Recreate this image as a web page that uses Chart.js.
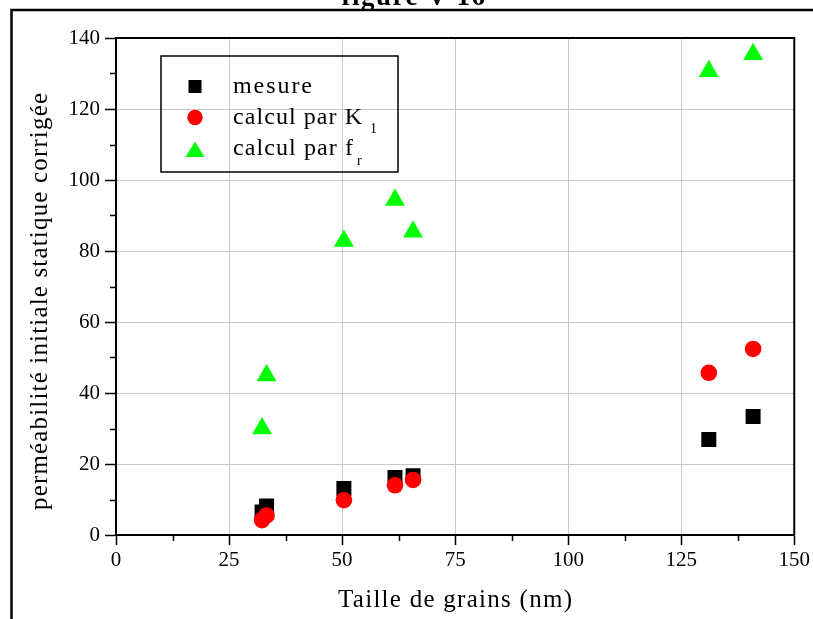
<!DOCTYPE html>
<html>
<head>
<meta charset="utf-8">
<script src="https://cdn.jsdelivr.net/npm/chart.js@4/dist/chart.umd.min.js"></script>
<style>
  html, body { margin: 0; padding: 0; background: #fff; }
  canvas { display: block; }
</style>
</head>
<body>
<canvas id="canvas" width="813" height="619"></canvas>
<script>
// grain size (nm), shared by the three series
const taille = [32.3, 33.3, 50.4, 61.7, 65.7, 131.1, 140.9];
const mesure = [6.5, 8.2, 13.1, 16.2, 16.7, 26.9, 33.4];
const calcul_k1 = [4.2, 5.5, 9.8, 14.0, 15.5, 45.7, 52.4];
const calcul_fr = [30.0, 44.9, 82.8, 94.4, 85.4, 130.6, 135.4];

const x_ticks = [0, 25, 50, 75, 100, 125, 150];
const y_ticks = [0, 20, 40, 60, 80, 100, 120, 140];

const serif = "'Liberation Serif', 'Times New Roman', serif";

const pts = (ys) => taille.map((x, i) => ({ x: x, y: ys[i] }));

// text stretched to a given width with letter spacing (the original uses wide spacing)
const spaced = (c, text, x, y, width, font) => {
  c.font = font;
  c.letterSpacing = "0px";
  const w = c.measureText(text).width;
  const sp = Math.max(0, (width - w) / (text.length - 1));
  c.letterSpacing = sp + "px";
  c.textAlign = "left";
  c.fillText(text, x, y);
  c.letterSpacing = "0px";
};

const decor = {
  id: "decor",
  beforeDraw(chart) {
    const c = chart.ctx;
    c.save();
    c.fillStyle = "white";
    c.fillRect(0, 0, chart.width, chart.height);
    // title, cut by the top of the page
    c.fillStyle = "black";
    c.font = "bold 27px " + serif;
    c.textAlign = "center";
    c.textBaseline = "alphabetic";
    c.letterSpacing = "1.5px";
    c.fillText("figure V-16", 414, 5);
    c.letterSpacing = "0px";
    c.fillStyle = "white";
    c.fillRect(0, 9, chart.width, 4);
    // page frame
    c.strokeStyle = "black";
    c.lineWidth = 2.5;
    c.beginPath();
    c.moveTo(11.5, chart.height);
    c.lineTo(11.5, 10);
    c.lineTo(chart.width, 10);
    c.stroke();
    c.restore();
  },
  afterDraw(chart) {
    const c = chart.ctx;
    const a = chart.chartArea;
    const sx = chart.scales.x;
    const sy = chart.scales.y;
    c.save();
    // top / right of the plot box
    c.strokeStyle = "black";
    c.lineWidth = 2;
    c.beginPath();
    c.moveTo(a.left, a.top);
    c.lineTo(a.right, a.top);
    c.lineTo(a.right, a.bottom);
    c.stroke();
    // minor ticks
    c.lineWidth = 1.5;
    c.beginPath();
    for (let v = 12.5; v < 150; v += 25) {
      const px = Math.round(sx.getPixelForValue(v)) + 0.5;
      c.moveTo(px, a.bottom);
      c.lineTo(px, a.bottom + 6);
    }
    for (let v = 10; v < 140; v += 20) {
      const py = Math.round(sy.getPixelForValue(v)) + 0.5;
      c.moveTo(a.left, py);
      c.lineTo(a.left - 6, py);
    }
    c.stroke();

    // axis titles
    c.fillStyle = "black";
    c.textBaseline = "alphabetic";
    spaced(c, "Taille de grains (nm)", 338, 607, 234, "25px " + serif);
    c.save();
    c.translate(47, 510);
    c.rotate(-Math.PI / 2);
    spaced(c, "perméabilité initiale statique corrigée", 0, 0, 417, "25px " + serif);
    c.restore();

    // legend
    c.lineWidth = 1.5;
    c.strokeRect(161, 56, 237, 116);
    c.fillStyle = "black";
    c.fillRect(188.5, 80, 13, 13);
    c.fillStyle = "red";
    c.beginPath();
    c.arc(195, 117.5, 7.7, 0, Math.PI * 2);
    c.fill();
    c.fillStyle = "#00ff00";
    c.beginPath();
    c.moveTo(195, 141.5);
    c.lineTo(204.5, 157);
    c.lineTo(185.5, 157);
    c.closePath();
    c.fill();

    c.fillStyle = "black";
    spaced(c, "mesure", 233, 93, 79, "24px " + serif);
    spaced(c, "calcul par K", 233, 124, 129, "24px " + serif);
    spaced(c, "calcul par f", 233, 155, 120, "24px " + serif);
    c.font = "14px " + serif;
    c.textAlign = "left";
    c.fillText("1", 370, 133);
    c.fillText("r", 357, 165);
    c.restore();
  }
};

const canvas = document.getElementById("canvas").getContext("2d");

const plot = new Chart(canvas, {
  type: "scatter",
  data: {
    datasets: [
      {
        label: "mesure",
        data: pts(mesure),
        pointStyle: "rect",
        pointRadius: 10.6,
        backgroundColor: "#000000",
        borderColor: "#000000",
        borderWidth: 0,
        order: 3
      },
      {
        label: "calcul par K1",
        data: pts(calcul_k1),
        pointStyle: "circle",
        pointRadius: 8.3,
        backgroundColor: "#ff0000",
        borderColor: "#ff0000",
        borderWidth: 0,
        order: 2
      },
      {
        label: "calcul par fr",
        data: pts(calcul_fr),
        pointStyle: "triangle",
        pointRadius: 11.5,
        backgroundColor: "#00ff00",
        borderColor: "#00ff00",
        borderWidth: 0,
        order: 1
      }
    ]
  },
  options: {
    responsive: false,
    animation: false,
    events: [],
    layout: { padding: { left: 0, right: 18, top: 38, bottom: 0 } },
    plugins: {
      legend: { display: false },
      tooltip: { enabled: false },
      title: { display: false }
    },
    scales: {
      x: {
        type: "linear",
        min: 0,
        max: 150,
        afterBuildTicks: (s) => { s.ticks = x_ticks.map(v => ({ value: v })); },
        afterFit: (s) => { s.height = 84; },
        ticks: {
          color: "black",
          padding: 3,
          maxRotation: 0,
          font: { family: serif, size: 21 }
        },
        grid: {
          color: "#c8c8c8",
          lineWidth: 1,
          tickColor: "black",
          tickLength: 10,
          tickWidth: 1.5
        },
        border: { color: "black", width: 2 }
      },
      y: {
        type: "linear",
        min: 0,
        max: 140,
        afterBuildTicks: (s) => { s.ticks = y_ticks.map(v => ({ value: v })); },
        afterFit: (s) => { s.width = 116; },
        ticks: {
          color: "black",
          padding: 5,
          font: { family: serif, size: 21 }
        },
        grid: {
          color: "#c8c8c8",
          lineWidth: 1,
          tickColor: "black",
          tickLength: 11,
          tickWidth: 1.5
        },
        border: { color: "black", width: 2 }
      }
    }
  },
  plugins: [decor]
});
</script>
</body>
</html>
